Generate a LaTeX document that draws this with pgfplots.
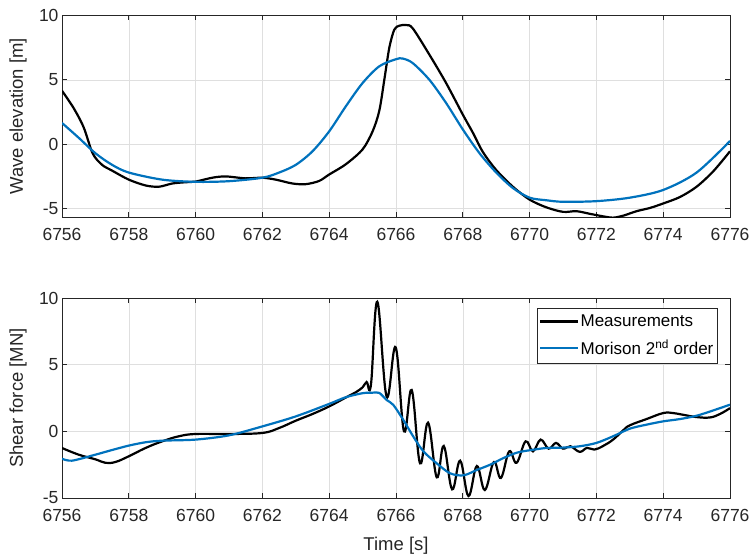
\documentclass[border=0pt]{standalone}
\usepackage{pgfplots}
\pgfplotsset{compat=1.18}
\usepackage{fontspec}
\setmainfont{Liberation Sans}
\definecolor{mblue}{RGB}{0,114,189}
\definecolor{axgray}{RGB}{38,38,38}
\definecolor{gridgray}{RGB}{223,223,223}
\pgfplotsset{
  mystyle/.style={
    width=668bp, scale only axis,
    xmin=6756, xmax=6776,
    xtick={6756,6758,...,6776},
    /pgf/number format/1000 sep={},
    /pgf/number format/assume math mode=true,
    grid=major,
    major grid style={gridgray, line width=0.6bp},
    axis line style={axgray, line width=0.8bp},
    tick style={axgray, line width=0.8bp},
    tick align=inside,
    major tick length=5bp,
    tick label style={font=\fontsize{17.5bp}{20bp}\selectfont, text=axgray},
    xticklabel style={yshift=-8bp},
    label style={font=\fontsize{18.5bp}{22bp}\selectfont, text=axgray},
    ylabel style={at={(axis description cs:-0.0659,0.5)}, anchor=center},
    every axis plot/.append style={line width=2.2bp},
  }
}
\begin{document}
\begin{tikzpicture}
\begin{axis}[mystyle, at={(0bp,0bp)}, anchor=south west,
  height=201.6bp, ymin=-5.65, ymax=10, ytick={-5,0,5,10},
  ylabel={Wave elevation [m]}]
\addplot[black, smooth] coordinates {
(6756,4.15) (6756.35,2.8) (6756.65,1.3) (6756.92,-0.72) (6757.2,-1.6) (6757.5,-2.05)
(6758,-2.75) (6758.5,-3.2) (6758.9,-3.3) (6759.3,-3.05) (6759.7,-2.95) (6760,-2.9)
(6760.5,-2.6) (6760.9,-2.5) (6761.5,-2.65) (6762,-2.6) (6762.4,-2.75) (6762.9,-3.05)
(6763.3,-3.1) (6763.7,-2.85) (6764,-2.35) (6764.5,-1.55) (6765,-0.4) (6765.3,1.0)
(6765.5,2.6) (6765.65,5.0) (6765.8,7.5) (6765.95,8.9) (6766.1,9.2) (6766.3,9.25)
(6766.5,9.0) (6767,6.95) (6767.5,4.75) (6768,2.3) (6768.3,0.9) (6768.6,-0.6)
(6769,-2.0) (6769.5,-3.3) (6770,-4.3) (6770.5,-4.9) (6771,-5.25) (6771.4,-5.2)
(6771.8,-5.4) (6772.2,-5.6) (6772.5,-5.7) (6772.8,-5.55) (6773.2,-5.2) (6773.6,-4.95)
(6774,-4.6) (6774.5,-4.1) (6775,-3.3) (6775.5,-2.1) (6776,-0.55)
};
\addplot[mblue, smooth] coordinates {
(6756,1.65) (6756.5,0.5) (6757,-0.7) (6757.5,-1.6) (6758,-2.2) (6759,-2.75)
(6760,-2.92) (6761,-2.87) (6762,-2.6) (6762.5,-2.2) (6763,-1.6) (6763.5,-0.55)
(6764,1.0) (6764.5,2.95) (6765,4.75) (6765.5,6.05) (6766,6.6) (6766.2,6.65)
(6766.5,6.3) (6767,5.0) (6767.5,3.2) (6768,1.15) (6768.5,-0.7) (6769,-2.2)
(6769.5,-3.4) (6770,-4.15) (6770.5,-4.35) (6771,-4.47) (6772,-4.42) (6773,-4.15)
(6774,-3.55) (6775,-2.2) (6776,0.25)
};
\end{axis}
\begin{axis}[mystyle, at={(0bp,-281bp)}, anchor=south west,
  height=200bp, ymin=-5, ymax=10, ytick={-5,0,5,10},
  ylabel={Shear force [MN]}, xlabel={Time [s]},
  xlabel style={at={(axis description cs:0.5,-0.24)}, anchor=center},
  legend style={at={(axis description cs:0.981,0.95)}, anchor=north east,
    draw=axgray, line width=0.8bp, font=\fontsize{17bp}{20bp}\selectfont,
    text=black, cells={anchor=west}, inner xsep=2bp, inner ysep=5bp,
    row sep=9bp, nodes={inner sep=1.5bp}},
  legend image code/.code={\draw[#1, line width=2.2bp] (0bp,0bp) -- (38bp,0bp);}]
\addplot[black, smooth, tension=0.65] coordinates {
(6756,-1.25) (6756.5,-1.75) (6757,-2.1) (6757.3,-2.36) (6757.6,-2.3) (6758,-1.87)
(6758.5,-1.25) (6759,-0.75) (6759.5,-0.37) (6760,-0.2) (6761,-0.2) (6762,-0.12)
(6762.5,0.25) (6763,0.8) (6763.5,1.3) (6764,1.87) (6764.5,2.54) (6764.8,2.94)
(6765,3.3) (6765.12,3.7) (6765.25,3.5) (6765.44,9.72) (6765.72,2.6) (6765.99,6.3)
(6766.24,0.0) (6766.47,3.1) (6766.72,-2.4) (6766.96,0.65) (6767.22,-3.45)
(6767.43,-1.1) (6767.68,-4.35) (6767.92,-2.2) (6768.17,-4.85) (6768.42,-2.6)
(6768.66,-4.4) (6768.93,-2.3) (6769.14,-3.5) (6769.39,-1.5) (6769.61,-2.36)
(6769.88,-0.75) (6770.1,-1.5) (6770.33,-0.62) (6770.57,-1.3) (6770.79,-0.87)
(6771.0,-1.3) (6771.22,-1.12) (6771.5,-1.54) (6771.72,-1.24) (6771.94,-1.37)
(6772.2,-1.1) (6772.5,-0.62) (6772.8,0.07) (6773,0.45) (6773.5,0.92) (6774,1.37)
(6774.3,1.37) (6774.6,1.24) (6775,1.07) (6775.4,1.04) (6775.7,1.3) (6776,1.74)
};
\addlegendentry{Measurements}
\addplot[mblue, smooth] coordinates {
(6756,-2.05) (6756.3,-2.2) (6757,-1.75) (6757.5,-1.4) (6758,-1.07) (6758.5,-0.82)
(6759,-0.7) (6760,-0.62) (6761,-0.3) (6762,0.37) (6763,1.12) (6764,2.06)
(6764.5,2.56) (6765,2.86) (6765.3,2.9) (6765.5,2.88) (6765.72,2.35) (6765.92,1.98)
(6766.22,0.85) (6766.52,-0.4) (6766.82,-1.5) (6767.22,-2.4) (6767.62,-3.15)
(6768.02,-3.3) (6768.42,-2.9) (6768.82,-2.5) (6769.22,-2.0) (6769.62,-1.6)
(6770,-1.42) (6770.5,-1.25) (6771,-1.22) (6771.5,-1.12)
(6772,-0.87) (6772.5,-0.37) (6773,0.2) (6773.5,0.5) (6774,0.75) (6774.5,0.92)
(6775,1.17) (6775.5,1.57) (6776,2.0)
};
\addlegendentry{Morison 2\textsuperscript{nd} order}
\end{axis}
\pgfresetboundingbox
\path[use as bounding box] (-62bp,-342bp) rectangle (689bp,217bp);
\end{tikzpicture}
\end{document}
